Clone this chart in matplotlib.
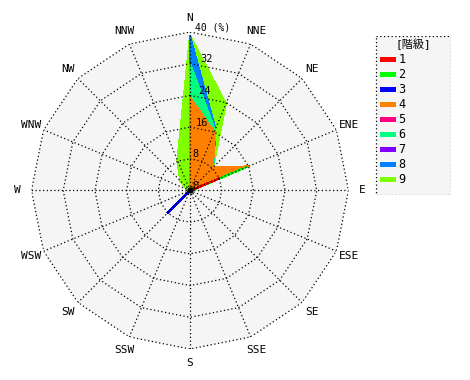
import numpy as np
import matplotlib
matplotlib.use('Agg')
import matplotlib.pyplot as plt
from matplotlib.patches import Rectangle

# 16 directions, clockwise from north
dirs = ['N', 'NNE', 'NE', 'ENE', 'E', 'ESE', 'SE', 'SSE',
        'S', 'SSW', 'SW', 'WSW', 'W', 'WNW', 'NW', 'NNW']

# frequency (%) per class and direction
class1 = [0, 0, 0, 8.0, 0.3, 0, 0, 0, 0, 0, 0, 0, 0, 0, 0, 0]
class2 = [0, 0, 0, 7.6, 0.1, 0, 0, 0, 0, 0, 0, 0, 0, 0, 0, 0]
class3 = [0, 0, 0, 0, 0, 0, 0, 0, 0, 0, 8.1, 0, 0, 0, 0, 0]
class4 = [23.5, 16.0, 8.3, 0.3, 0, 0, 0, 0, 0, 0, 0, 0, 0, 0, 0, 0]
class5 = [0, 0, 0, 0, 0, 0, 0, 0, 0, 0, 0, 0, 0, 0, 0, 0]
class6 = [8.5, 0.5, 0, 0, 0, 0, 0, 0, 0, 0, 0, 0, 0, 0, 0, 0]
class7 = [0, 0, 0, 0, 0, 0, 0, 0, 0, 0, 0, 0, 0, 0, 0, 0]
class8 = [7.0, 0.3, 0, 0, 0, 0, 0, 0, 0, 0, 0, 0, 0, 0, 0, 0]
class9 = [0.1, 6.9, 0, 0, 0, 0, 0, 0, 0, 0, 0, 0, 0, 1.0, 3.5, 8.3]

class_names = ['1', '2', '3', '4', '5', '6', '7', '8', '9']
colors = ['#ff0000', '#00ff00', '#0000ff', '#ff8000', '#ff0080',
          '#00ff80', '#8000ff', '#0080ff', '#80ff00']
rings = [8, 16, 24, 32, 40]

classes = np.array([class1, class2, class3, class4, class5,
                    class6, class7, class8, class9])
cum = np.cumsum(classes, axis=0)

theta = np.deg2rad(np.arange(16) * 22.5)
theta_c = np.append(theta, theta[0])

fig = plt.figure(figsize=(4.7, 3.8), dpi=100)
ax = fig.add_axes([0.067, 0.0816, 0.6745, 0.8342], projection='polar')
ax.set_theta_zero_location('N')
ax.set_theta_direction(-1)
ax.set_rlim(0, 40)
ax.grid(False)
ax.set_xticks([])
ax.set_yticks([])
ax.spines['polar'].set_visible(False)
ax.patch.set_visible(False)

# background polygon
ax.fill(theta_c, [40] * 17, color='#f5f5f5', zorder=0, lw=0)

# stacked classes, outermost first
for i in range(8, -1, -1):
    r = np.append(cum[i], cum[i][0])
    ax.fill(theta_c, r, facecolor=colors[i], edgecolor=colors[i],
            lw=0.7, zorder=2, antialiased=False)

# polygon grid
for rv in rings:
    ax.plot(theta_c, [rv] * 17, color='black', ls=(0, (1, 2)), lw=0.9, zorder=3)
for t in theta:
    ax.plot([t, t], [0, 40], color='black', ls=(0, (1, 2)), lw=0.9, zorder=3)
ax.plot([0], [0], 'o', color='black', ms=3.5, zorder=4)

# direction labels
for t, d in zip(theta, dirs):
    ax.text(t, 43.5, d, ha='center', va='center', fontsize=8,
            family='DejaVu Sans Mono', clip_on=False)

# radial labels
for rv in [0] + rings[:-1]:
    ax.text(np.deg2rad(4.5 if rv else 30), rv + 1.2, str(rv), ha='left', va='center',
            fontsize=7.5, family='DejaVu Sans Mono', zorder=5)
fig.text(195 / 470, 1 - 27 / 380, '40 (%)', ha='left', va='center',
         fontsize=7, family='DejaVu Sans Mono')

# legend box
lax = fig.add_axes([375 / 470, 1 - 195 / 380, 76 / 470, 159.3 / 380])
lax.set_xlim(0, 76)
lax.set_ylim(159.3, 0)
lax.axis('off')
lax.add_patch(Rectangle((0.5, 0.5), 75, 158.3, facecolor='#f5f5f5',
                        edgecolor='black', ls=(0, (1, 2)), lw=0.9))
lax.text(38, 8.5, '[階級]', ha='center', va='center', fontsize=8,
         family=['DejaVu Sans Mono', 'Noto Sans CJK JP'])
for i, name in enumerate(class_names):
    y = 24 + 15 * i
    lax.add_patch(Rectangle((5, y - 2.5), 15.5, 5, facecolor=colors[i], lw=0))
    lax.text(23.5, y, name, ha='left', va='center', fontsize=8.5,
             family='DejaVu Sans Mono')

fig.savefig('out.png', dpi=100)
